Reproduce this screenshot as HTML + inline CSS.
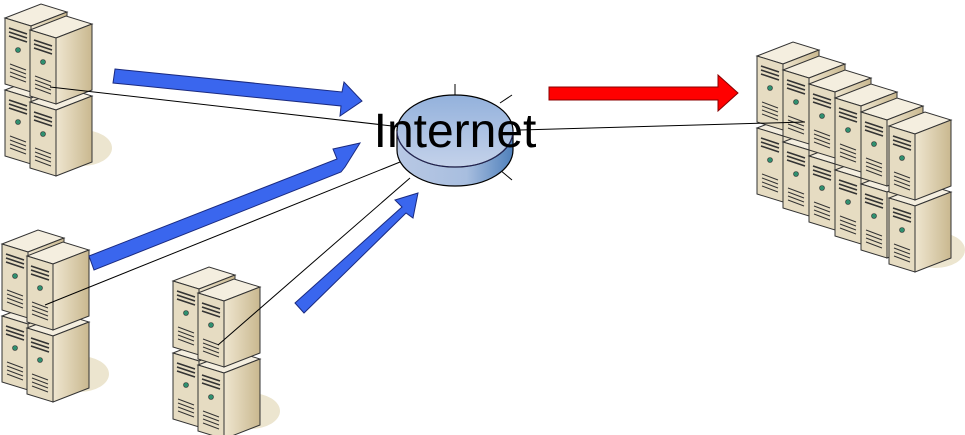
<!DOCTYPE html>
<html><head><style>html,body{margin:0;padding:0;background:#fff;width:965px;height:435px;overflow:hidden}</style></head>
<body>
<svg width="965" height="435" viewBox="0 0 965 435" xmlns="http://www.w3.org/2000/svg">
<defs>
<linearGradient id="sd" x1="0" y1="0" x2="1" y2="0"><stop offset="0" stop-color="#efe6d0"/><stop offset="1" stop-color="#c9b88f"/></linearGradient>
<linearGradient id="cyl" x1="0" y1="0" x2="1" y2="0"><stop offset="0" stop-color="#b8c8e4"/><stop offset="0.6" stop-color="#a8bedf"/><stop offset="1" stop-color="#4f80bb"/></linearGradient>
<linearGradient id="ctop" x1="0" y1="0" x2="0" y2="1"><stop offset="0" stop-color="#93b1dc"/><stop offset="1" stop-color="#c4d2ea"/></linearGradient>
<g id="u">
<polygon points="0,6 36,-8 62,0 26,14" fill="#f4eedf" stroke="#333" stroke-width="1"/>
<polygon points="26,14 62,0 62,66 26,80" fill="url(#sd)" stroke="#333" stroke-width="1"/>
<polygon points="0,6 26,14 26,80 0,72" fill="#e6dcc2" stroke="#333" stroke-width="1"/>
<path d="M4,16 L22,22 M4,20 L22,26 M4,24 L22,30" stroke="#333" stroke-width="1.6"/>
<circle cx="13" cy="38" r="2.5" fill="#2f8f6f" stroke="#333" stroke-width="0.6"/>
<path d="M5,52 L21,58 M5,56 L21,62 M5,60 L21,66 M5,64 L21,70" stroke="#333" stroke-width="1"/>
</g>
<g id="grp">
<ellipse cx="82" cy="148" rx="30" ry="18" fill="#ece5cf"/>
<use href="#u" x="5" y="84"/>
<use href="#u" x="5" y="12"/>
<use href="#u" x="30" y="96"/>
<use href="#u" x="30" y="24"/>
</g>
</defs>
<use href="#grp" x="0" y="0"/>
<use href="#grp" x="-3" y="226"/>
<use href="#grp" x="168" y="263"/>
<ellipse cx="935" cy="250" rx="30" ry="18" fill="#ece5cf"/>
<g>
<use href="#u" x="757" y="122"/><use href="#u" x="757" y="50"/>
<use href="#u" x="783" y="136"/><use href="#u" x="783" y="64"/>
<use href="#u" x="809" y="150"/><use href="#u" x="809" y="78"/>
<use href="#u" x="835" y="164"/><use href="#u" x="835" y="92"/>
<use href="#u" x="861" y="178"/><use href="#u" x="861" y="106"/>
<use href="#u" x="889" y="192"/><use href="#u" x="889" y="120"/>
</g>
<g stroke="#000" stroke-width="1">
<line x1="50" y1="87" x2="410" y2="128"/>
<line x1="45" y1="305" x2="405" y2="160"/>
<line x1="218" y1="345" x2="410" y2="178"/>
<line x1="520" y1="130" x2="805" y2="122"/>
<line x1="455" y1="84" x2="455" y2="95"/>
<line x1="500" y1="103" x2="512" y2="95"/>
<line x1="500" y1="170" x2="512" y2="180"/>
</g>
<path d="M397,131 L397,150 A58,36 0 0 0 513,150 L513,131 Z" fill="url(#cyl)" stroke="#000" stroke-width="1.2"/>
<ellipse cx="455" cy="131" rx="58" ry="36" fill="url(#ctop)" stroke="#000" stroke-width="1.2"/>
<path d="M397,131 A58,36 0 0 0 513,131" fill="none" stroke="#2a2a6a" stroke-width="0.8"/>
<text x="455" y="147" font-family="Liberation Sans, sans-serif" font-size="48" text-anchor="middle" fill="#000">Internet</text>
<g fill="#3a66ee" stroke="#1a2a80" stroke-width="1">
<polygon points="115,69 342,92 344,82 362,101 340,116 341,106 113,83"/>
<polygon points="89,256 337,159 333,149 360,143 345,167 341,172 94,270"/>
<polygon points="295,303 402,207 395,200 418,193 413,218 406,213 304,313"/>
</g>
<polygon points="549,87 718,87 718,75 738,93 718,111 718,100 549,100" fill="#f00" stroke="#800" stroke-width="1"/>
</svg>
</body></html>
